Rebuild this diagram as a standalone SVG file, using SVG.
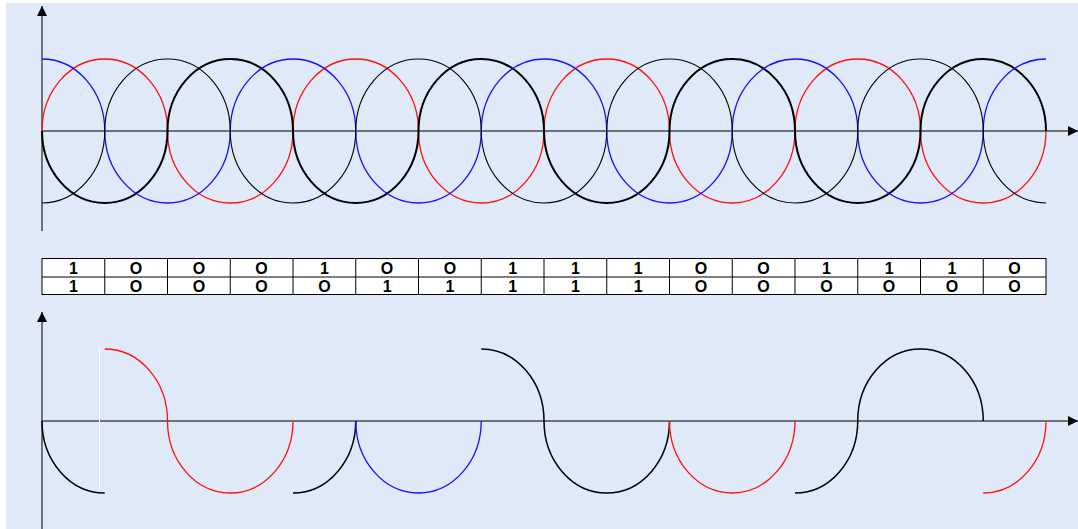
<svg xmlns="http://www.w3.org/2000/svg" width="1078" height="529" viewBox="0 0 1078 529">
<defs>
<style>
.axis{stroke:#4a4a4a;stroke-width:1.5;fill:none}
.w{fill:none;stroke-linecap:butt}
.red{stroke:#ff1010;stroke-width:1.3}
.blue{stroke:#1010ff;stroke-width:1.3}
.bk1{stroke:#000;stroke-width:1.1}
.bk2{stroke:#000;stroke-width:2}
.bk{stroke:#000;stroke-width:1.5}
.cell{fill:#fff;stroke:#000;stroke-width:1}
.t{font-family:"Liberation Sans",Arial,sans-serif;font-size:16px;font-weight:bold;fill:#000;text-anchor:middle}
</style>
<marker id="ah" viewBox="0 0 10 10" refX="10" refY="5" markerWidth="10" markerHeight="10" markerUnits="userSpaceOnUse" orient="auto">
<path d="M0,0 L10,5 L0,10 z" fill="#000"/>
</marker>
</defs>
<rect x="0" y="0" width="1078" height="529" fill="#fff"/>
<rect x="6" y="3" width="1072" height="526" fill="#dfe9f7"/>

<g id="top-axes">
<line class="axis" x1="42" y1="231" x2="42" y2="6" marker-end="url(#ah)"/>
<line class="axis" x1="42" y1="131" x2="1078" y2="131" marker-end="url(#ah)"/>
</g>

<g id="top-waves" class="w">
<path class="w red" d="M42,131 A62.75,72 0 0 1 167.5,131 A62.75,72 0 0 0 293,131 A62.75,72 0 0 1 418.5,131 A62.75,72 0 0 0 544,131 A62.75,72 0 0 1 669.5,131 A62.75,72 0 0 0 795,131 A62.75,72 0 0 1 920.5,131 A62.75,72 0 0 0 1046,131"/>
<path class="w bk2" d="M42,131 A62.75,72 0 0 0 167.5,131 A62.75,72 0 0 1 293,131 A62.75,72 0 0 0 418.5,131 A62.75,72 0 0 1 544,131 A62.75,72 0 0 0 669.5,131 A62.75,72 0 0 1 795,131 A62.75,72 0 0 0 920.5,131 A62.75,72 0 0 1 1046,131"/>
<path class="w blue" d="M42,59 A62.75,72 0 0 1 104.75,131 A62.75,72 0 0 0 230.25,131 A62.75,72 0 0 1 355.75,131 A62.75,72 0 0 0 481.25,131 A62.75,72 0 0 1 606.75,131 A62.75,72 0 0 0 732.25,131 A62.75,72 0 0 1 857.75,131 A62.75,72 0 0 0 983.25,131 A62.75,72 0 0 1 1046,59"/>
<path class="w bk1" d="M42,203 A62.75,72 0 0 0 104.75,131 A62.75,72 0 0 1 230.25,131 A62.75,72 0 0 0 355.75,131 A62.75,72 0 0 1 481.25,131 A62.75,72 0 0 0 606.75,131 A62.75,72 0 0 1 732.25,131 A62.75,72 0 0 0 857.75,131 A62.75,72 0 0 1 983.25,131 A62.75,72 0 0 0 1046,203"/>
</g>

<g id="bit-table">
<rect class="cell" x="42" y="258.5" width="1004" height="36"/>
<line stroke="#000" stroke-width="1" x1="42" y1="277" x2="1046" y2="277"/>
<g stroke="#000" stroke-width="1">
<line x1="104.75" y1="258.5" x2="104.75" y2="294.5"/>
<line x1="167.5" y1="258.5" x2="167.5" y2="294.5"/>
<line x1="230.25" y1="258.5" x2="230.25" y2="294.5"/>
<line x1="293" y1="258.5" x2="293" y2="294.5"/>
<line x1="355.75" y1="258.5" x2="355.75" y2="294.5"/>
<line x1="418.5" y1="258.5" x2="418.5" y2="294.5"/>
<line x1="481.25" y1="258.5" x2="481.25" y2="294.5"/>
<line x1="544" y1="258.5" x2="544" y2="294.5"/>
<line x1="606.75" y1="258.5" x2="606.75" y2="294.5"/>
<line x1="669.5" y1="258.5" x2="669.5" y2="294.5"/>
<line x1="732.25" y1="258.5" x2="732.25" y2="294.5"/>
<line x1="795" y1="258.5" x2="795" y2="294.5"/>
<line x1="857.75" y1="258.5" x2="857.75" y2="294.5"/>
<line x1="920.5" y1="258.5" x2="920.5" y2="294.5"/>
<line x1="983.25" y1="258.5" x2="983.25" y2="294.5"/>
</g>
<g class="t">
<text x="73.4" y="274">1</text><text x="136.1" y="274">O</text><text x="198.9" y="274">O</text><text x="261.6" y="274">O</text>
<text x="324.4" y="274">1</text><text x="387.1" y="274">O</text><text x="449.9" y="274">O</text><text x="512.6" y="274">1</text>
<text x="575.4" y="274">1</text><text x="638.1" y="274">1</text><text x="700.9" y="274">O</text><text x="763.6" y="274">O</text>
<text x="826.4" y="274">1</text><text x="889.1" y="274">1</text><text x="951.9" y="274">1</text><text x="1014.6" y="274">O</text>
<text x="73.4" y="292">1</text><text x="136.1" y="292">O</text><text x="198.9" y="292">O</text><text x="261.6" y="292">O</text>
<text x="324.4" y="292">O</text><text x="387.1" y="292">1</text><text x="449.9" y="292">1</text><text x="512.6" y="292">1</text>
<text x="575.4" y="292">1</text><text x="638.1" y="292">1</text><text x="700.9" y="292">O</text><text x="763.6" y="292">O</text>
<text x="826.4" y="292">O</text><text x="889.1" y="292">O</text><text x="951.9" y="292">O</text><text x="1014.6" y="292">O</text>
</g>
</g>

<g id="bottom-axes">
<line class="axis" x1="42" y1="529" x2="42" y2="312" marker-end="url(#ah)"/>
<line class="axis" x1="42" y1="421" x2="1078" y2="421" marker-end="url(#ah)"/>
</g>

<g id="bottom-wave">
<line x1="99.5" y1="348" x2="99.5" y2="489" stroke="#fff" stroke-width="1"/>
<path class="w bk" d="M42,421 A62.75,72 0 0 0 104.75,493"/>
<path class="w red" d="M104.75,349 A62.75,72 0 0 1 167.5,421 A62.75,72 0 0 0 293,421"/>
<path class="w bk" d="M293,493 A62.75,72 0 0 0 355.75,421"/>
<path class="w blue" d="M355.75,421 A62.75,72 0 0 0 481.25,421"/>
<path class="w bk" d="M481.25,349 A62.75,72 0 0 1 544,421 A62.75,72 0 0 0 669.5,421"/>
<path class="w red" d="M669.5,421 A62.75,72 0 0 0 795,421"/>
<path class="w bk" d="M795,493 A62.75,72 0 0 0 857.75,421 A62.75,72 0 0 1 983.25,421"/>
<path class="w red" d="M983.25,493 A62.75,72 0 0 0 1046,421"/>
</g>
</svg>
